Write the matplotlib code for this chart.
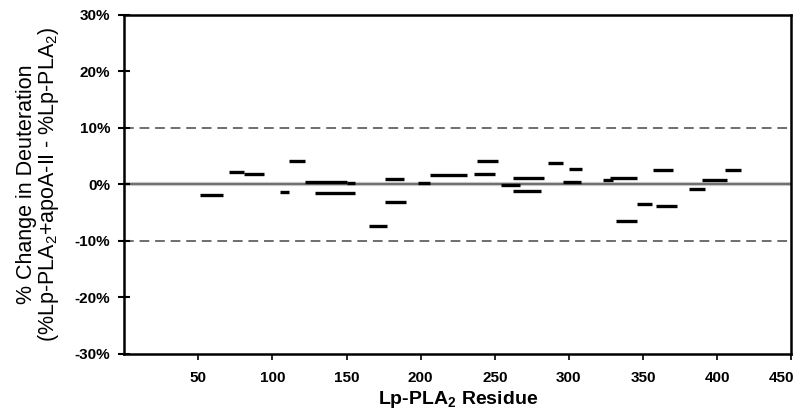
import matplotlib
matplotlib.use("Agg")
import matplotlib.pyplot as plt
from matplotlib.ticker import FuncFormatter
from matplotlib.transforms import ScaledTranslation

plt.rcParams['font.family'] = ['Liberation Sans', 'DejaVu Sans']
plt.rcParams['mathtext.default'] = 'regular'

# Peptide segments: start residue, end residue, % change in deuteration
seg_start = [51, 71, 81, 105, 111, 122, 150, 129, 165, 176, 176, 198, 206,
             236, 238, 254, 262, 262, 286, 300, 296, 323, 328, 332, 346, 357,
             359, 381, 390, 405]
seg_end = [67, 81, 94, 111, 122, 150, 156, 156, 177, 189, 190, 206, 231,
           250, 252, 267, 283, 281, 296, 309, 308, 330, 346, 346, 356, 370,
           373, 392, 407, 416]
seg_change = [-1.8, 2.2, 1.8, -1.4, 4.1, 0.5, 0.3, -1.5, -7.4, 0.9, -3.1, 0.2,
              1.6, 1.8, 4.1, -0.1, 1.2, -1.2, 3.7, 2.7, 0.5, 0.7, 1.2, -6.5,
              -3.5, 2.5, -3.8, -0.9, 0.8, 2.5]

x_ticks = [50, 100, 150, 200, 250, 300, 350, 400, 450]
y_ticks = [-30, -20, -10, 0, 10, 20, 30]
thresholds = [10, -10]

fig = plt.figure(figsize=(7.96, 4.12), dpi=100)
ax = fig.add_axes([0.156, 0.141, 0.838, 0.823])

ax.axhline(0, color='#c8c8c8', lw=3.0, zorder=1)
ax.axhline(0, color='#6e6e6e', lw=1.4, zorder=1)
for t in thresholds:
    ax.axhline(t, color='#6e6e6e', lw=1.4, ls=(0, (5, 3)), zorder=1)

ax.hlines(seg_change, seg_start, seg_end, colors='black', lw=2.4, zorder=3)

ax.set_xlim(0, 450)
ax.set_ylim(-30, 30)
ax.set_xticks(x_ticks)
ax.set_yticks(y_ticks)
ax.yaxis.set_major_formatter(FuncFormatter(lambda v, p: f"{int(round(v))}%"))

for s in ax.spines.values():
    s.set_linewidth(1.8)
    s.set_color('black')

ax.tick_params(axis='y', direction='inout', length=8, width=1.5,
               labelsize=11, pad=6)
ax.tick_params(axis='x', direction='out', length=4, width=1.2,
               labelsize=11, pad=8)
for lbl in ax.get_xticklabels() + ax.get_yticklabels():
    lbl.set_fontweight('bold')

# keep the last x tick label inside the figure, as in the reference
last = ax.xaxis.get_major_ticks()[-1].label1
last.set_transform(last.get_transform() +
                   ScaledTranslation(-0.10, 0, fig.dpi_scale_trans))

ax.set_xlabel('Lp-PLA$_2$ Residue', fontsize=14, fontweight='bold', labelpad=3)
ax.set_ylabel('% Change in Deuteration\n(%Lp-PLA$_2$+apoA-II - %Lp-PLA$_2$)',
              fontsize=15.5, labelpad=10, linespacing=0.95)

fig.savefig('out.png', dpi=100)
